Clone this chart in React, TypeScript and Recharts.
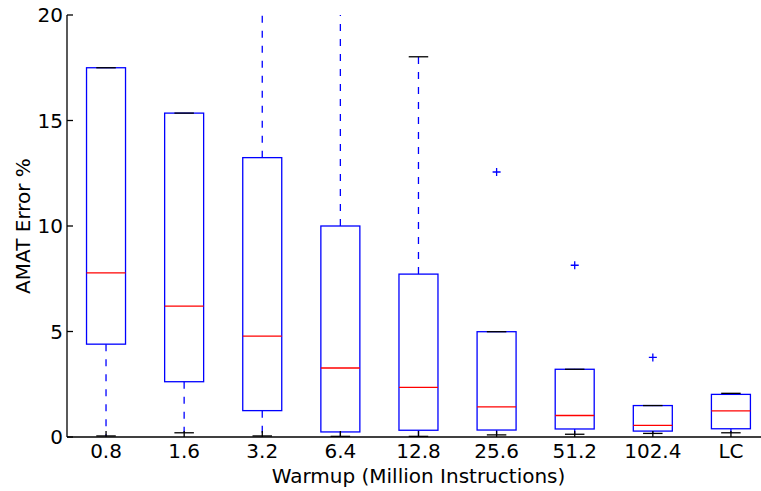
import { Bar, ComposedChart, Scatter, XAxis, YAxis } from "recharts";

const categories = ["0.8", "1.6", "3.2", "6.4", "12.8", "25.6", "51.2", "102.4", "LC"];
const whiskerLow = [0.05, 0.2, 0.05, 0.03, 0.03, 0.1, 0.13, 0.17, 0.2];
const lowerQuartile = [4.4, 2.62, 1.25, 0.24, 0.32, 0.33, 0.38, 0.28, 0.39];
const medians = [7.78, 6.2, 4.78, 3.27, 2.35, 1.43, 1.02, 0.55, 1.24];
const upperQuartile = [17.5, 15.35, 13.24, 10.0, 7.72, 4.99, 3.21, 1.49, 2.02];
const whiskerHigh = [17.5, 15.35, 23.5, 24.5, 18.02, 4.99, 3.21, 1.49, 2.07];
const outliers = [null, null, null, null, null, 12.56, 8.14, 3.77, null];
const yTicks = [0, 5, 10, 15, 20];

const data = categories.map((name, i) => ({
  name,
  low: whiskerLow[i],
  q1: lowerQuartile[i],
  median: medians[i],
  q3: upperQuartile[i],
  high: whiskerHigh[i],
  outlier: outliers[i],
}));

const FONT = "DejaVu Sans";
const BLUE = "#0000ff";
const SW = 1.3;

const BoxShape = (props: any) => {
  const { x, y, width, height, payload } = props;
  if (!payload) return <g />;
  const top = Math.min(y, y + height);
  const bottom = Math.max(y, y + height);
  // whisker range is the bar; everything else placed linearly inside it
  const toPx = (v: number) =>
    top + ((bottom - top) * (payload.high - v)) / (payload.high - payload.low);
  const cx = x + width / 2;
  const capHalf = width / 4;
  const yQ1 = toPx(payload.q1);
  const yQ3 = toPx(payload.q3);
  const yMed = toPx(payload.median);
  const yLow = toPx(payload.low);
  const yHigh = toPx(payload.high);
  return (
    <g strokeWidth={SW}>
      <line x1={cx} x2={cx} y1={yQ3} y2={yHigh} stroke={BLUE} strokeDasharray="7 8" />
      <line x1={cx} x2={cx} y1={yQ1} y2={yLow} stroke={BLUE} strokeDasharray="7 8" />
      <rect x={x} y={yQ3} width={width} height={yQ1 - yQ3} fill="none" stroke={BLUE} />
      <line x1={cx - capHalf} x2={cx + capHalf} y1={yHigh} y2={yHigh} stroke="#000" />
      <line x1={cx - capHalf} x2={cx + capHalf} y1={yLow} y2={yLow} stroke="#000" />
      <line x1={x} x2={x + width} y1={yMed} y2={yMed} stroke="#ff0000" />
    </g>
  );
};

const PlusShape = (props: any) => {
  const { cx, cy, payload } = props;
  if (!payload || payload.outlier == null || cy == null) return <g />;
  return <path d={`M${cx - 4},${cy}h8M${cx},${cy - 4}v8`} stroke={BLUE} strokeWidth={SW} fill="none" />;
};

const BottomTick = (props: any) => {
  const { x, y, payload } = props;
  return (
    <g>
      <line x1={x} x2={x} y1={y} y2={y - 6} stroke="#000" strokeWidth={SW} />
      <text x={x} y={y + 21} textAnchor="middle" fontFamily={FONT} fontSize={20} fill="#000">
        {payload.value}
      </text>
    </g>
  );
};

const TopTick = (props: any) => {
  const { x, y } = props;
  return <line x1={x} x2={x} y1={y} y2={y + 6} stroke="#000" strokeWidth={SW} />;
};

const LeftTick = (props: any) => {
  const { x, y, payload } = props;
  return (
    <g>
      <line x1={x} x2={x + 6} y1={y} y2={y} stroke="#000" strokeWidth={SW} />
      <text x={x - 4} y={y} dy="0.36em" textAnchor="end" fontFamily={FONT} fontSize={20} fill="#000">
        {payload.value}
      </text>
    </g>
  );
};

export default function App() {
  return (
    <div style={{ position: "absolute", left: 0, top: 0, width: 761, height: 491, overflow: "hidden", background: "#fff" }}>
      <ComposedChart
        width={780}
        height={491}
        data={data}
        margin={{ top: 15, right: 10, bottom: 0, left: 0 }}
        barCategoryGap="25%"
      >
        <XAxis
          dataKey="name"
          type="category"
          height={54}
          tickSize={0}
          tickMargin={0}
          stroke="#000"
          strokeWidth={SW}
          tickLine={false}
          tick={<BottomTick />}
          interval={0}
          label={{
            value: "Warmup (Million Instructions)",
            position: "insideBottom",
            offset: 8,
            fill: "#000",
            style: { fontFamily: FONT, fontSize: 20, fill: "#000" },
          }}
        />
        <XAxis
          xAxisId="top"
          dataKey="name"
          type="category"
          orientation="top"
          height={0}
          tickSize={0}
          tickMargin={0}
          stroke="#000"
          strokeWidth={SW}
          tickLine={false}
          tick={<TopTick />}
          interval={0}
        />
        <YAxis
          type="number"
          domain={[0, 20]}
          ticks={yTicks}
          allowDataOverflow
          width={67}
          tickSize={0}
          tickMargin={0}
          stroke="#000"
          strokeWidth={SW}
          tickLine={false}
          tick={<LeftTick />}
          label={{
            value: "AMAT Error %",
            angle: -90,
            position: "insideLeft",
            offset: 23,
            style: { fontFamily: FONT, fontSize: 20, fill: "#000", textAnchor: "middle" },
          }}
        />
        <Bar
          dataKey={(d: any) => [d.low, d.high]}
          shape={<BoxShape />}
          isAnimationActive={false}
        />
        <Scatter dataKey="outlier" shape={<PlusShape />} isAnimationActive={false} />
      </ComposedChart>
    </div>
  );
}
